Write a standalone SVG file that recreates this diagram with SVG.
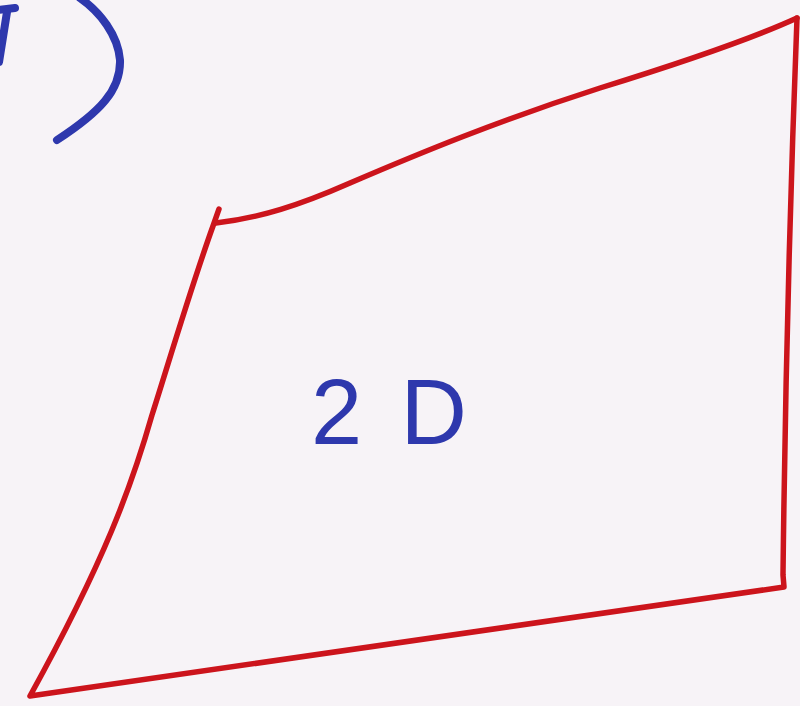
<svg xmlns="http://www.w3.org/2000/svg" width="800" height="706" viewBox="0 0 800 706">
<style>
.blue{fill:none;stroke:#2e38ad;stroke-width:8;stroke-linecap:round;stroke-linejoin:round}
.red{fill:none;stroke:#cc141c;stroke-width:5.5;stroke-linecap:round;stroke-linejoin:round}
.lbl{font-family:"Liberation Sans","DejaVu Sans",sans-serif;font-size:92px;fill:#2e38ad}
</style>
<rect width="800" height="706" fill="#f7f3f7"/>
<g id="sketch-marks">
<path class="blue" d="M-2,10 L15,8"/>
<path class="blue" d="M7,12 L-1,62"/>
<path class="blue" d="M80,-2 C100,12 118,35 120,60 C121,90 100,112 57,140"/>
</g>
<g id="shape-2d">
<path class="red" d="M219,209 L213,226 C190,290 168,365 152,415 C132,485 105,560 30,696 C280,660 530,622 784,587 L783,575 C785,400 790,200 797,18"/>
<path class="red" d="M216,223 C260,218 300,205 350,183 C420,153 500,120 600,88 C700,57 760,35 797,18"/>
<text class="lbl" x="311" y="444" textLength="156" lengthAdjust="spacing">2D</text>
</g>
</svg>
